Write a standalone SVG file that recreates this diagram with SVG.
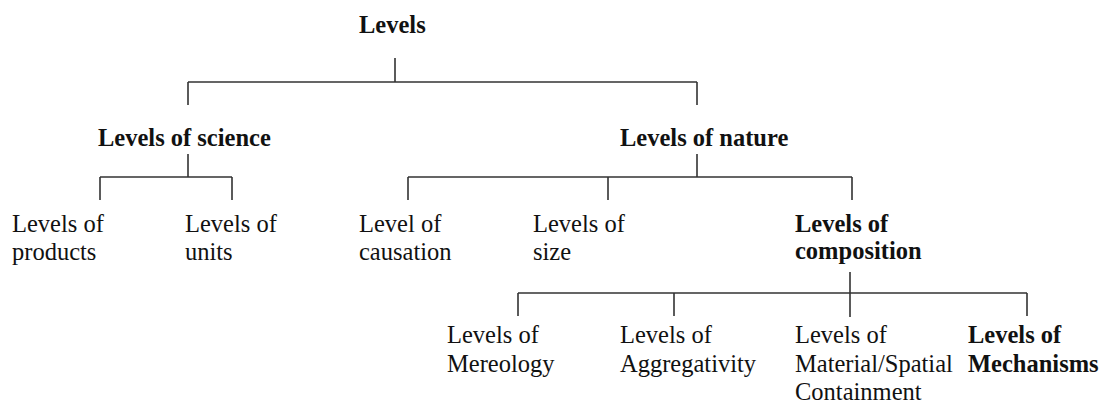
<svg xmlns="http://www.w3.org/2000/svg" width="1101" height="404" viewBox="0 0 1101 404">
<style>
text{font-family:"Liberation Serif","Times New Roman",serif;font-size:24.5px;fill:#111}
.b{font-weight:bold}
.c{fill:none;stroke:#333;stroke-width:1.6}
</style>
<rect width="1101" height="404" fill="#fff"/>
<g id="connectors" class="c">
<path d="M395 58V82M188 82H697M188 82V105M697 82V105"/>
<path d="M188 154V177M100 177H232M100 177V200M232 177V200"/>
<path d="M697 154V177M408 177H852M408 177V200M608 177V200M852 177V200"/>
<path d="M850 272V317M518 293H1027M518 293V316M674 293V316M1027 293V316"/>
</g>
<g id="n-levels"><text class="b" x="359" y="33">Levels</text></g>
<g id="n-science"><text class="b" x="98" y="146">Levels of science</text></g>
<g id="n-nature"><text class="b" x="620" y="146">Levels of nature</text></g>
<g id="n-products"><text x="12" y="232">Levels of</text><text x="12" y="260">products</text></g>
<g id="n-units"><text x="185" y="232">Levels of</text><text x="185" y="260">units</text></g>
<g id="n-causation"><text x="359" y="232">Level of</text><text x="359" y="260">causation</text></g>
<g id="n-size"><text x="533" y="232">Levels of</text><text x="533" y="260">size</text></g>
<g id="n-composition"><text class="b" x="795" y="232">Levels of</text><text class="b" x="795" y="259">composition</text></g>
<g id="n-mereology"><text x="447" y="343">Levels of</text><text x="447" y="372">Mereology</text></g>
<g id="n-aggregativity"><text x="620" y="343">Levels of</text><text x="620" y="372">Aggregativity</text></g>
<g id="n-material"><text x="795" y="343">Levels of</text><text x="795" y="372">Material/Spatial</text><text x="795" y="400">Containment</text></g>
<g id="n-mechanisms"><text class="b" x="968" y="343">Levels of</text><text class="b" x="968" y="372">Mechanisms</text></g>
</svg>
